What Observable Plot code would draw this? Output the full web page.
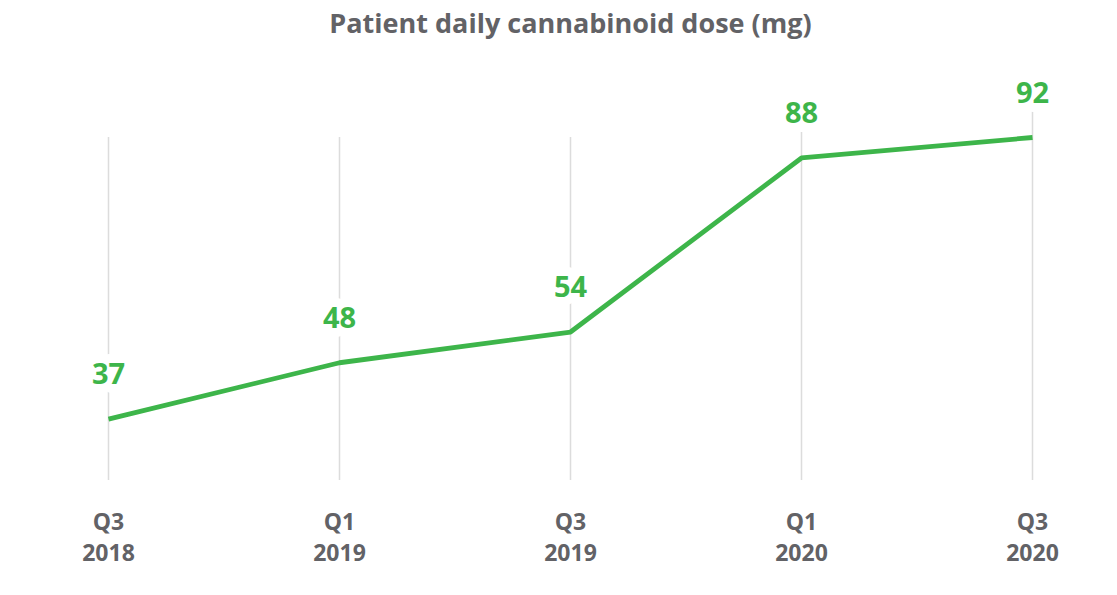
<!DOCTYPE html>
<html>
<head>
<meta charset="utf-8">
<script src="https://cdn.jsdelivr.net/npm/d3@7"></script>
<script src="https://cdn.jsdelivr.net/npm/@observablehq/plot@0.6"></script>
<style>
  html, body { margin: 0; padding: 0; background: #fff; }
  #chart svg { display: block; }
</style>
</head>
<body>
<div id="chart"></div>
<script>
const title = "Patient daily cannabinoid dose (mg)";
const periods = ["Q3 2018", "Q1 2019", "Q3 2019", "Q1 2020", "Q3 2020"];
const quarterLabels = ["Q3", "Q1", "Q3", "Q1", "Q3"];
const yearLabels = ["2018", "2019", "2019", "2020", "2020"];
const doses = [37, 48, 54, 88, 92];

const data = periods.map((p, i) => ({period: p, dose: doses[i], q: quarterLabels[i], yr: yearLabels[i]}));

const green = "#3db54a";
const gray = "#626266";
const font = "Open Sans";

const chart = Plot.plot({
  width: 1117,
  height: 595,
  marginLeft: 108,
  marginRight: 85,
  marginTop: 137,
  marginBottom: 115,
  style: {fontFamily: font, background: "#fff"},
  x: {type: "point", domain: periods, padding: 0, label: null},
  y: {domain: [25, 92], axis: null},
  marks: [
    Plot.ruleX(data, {x: "period", y1: 25, y2: d => Math.max(d.dose + 5, 92), stroke: "#dcdcdc", strokeWidth: 1.5}),
    Plot.line(data, {x: "period", y: "dose", stroke: green, strokeWidth: 4.8, strokeLinejoin: "miter", strokeLinecap: "butt"}),
    Plot.text(data, {x: "period", y: "dose", text: d => String(d.dose), dy: -44, fill: green, stroke: "white", strokeWidth: 18, fontSize: 29, fontWeight: "bold", fontFamily: font}),
    Plot.axisX({
      tickSize: 0,
      tickPadding: 28,
      tickFormat: d => quarterLabels[periods.indexOf(d)] + "\n" + yearLabels[periods.indexOf(d)],
      lineHeight: 1.34,
      fontSize: 23,
      fontWeight: "bold",
      fill: gray,
      fontFamily: font,
      label: null
    }),
    Plot.text([title], {frameAnchor: "top", dy: -124, fontSize: 27, fontWeight: "bold", fill: gray, fontFamily: font})
  ]
});
document.getElementById("chart").append(chart);
</script>
</body>
</html>
